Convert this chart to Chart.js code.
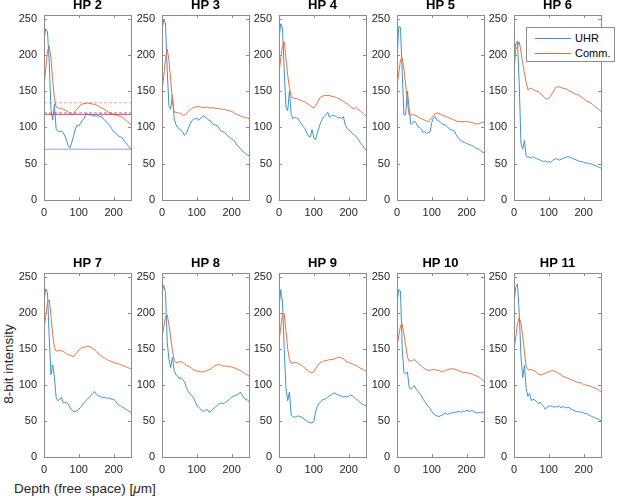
<!DOCTYPE html>
<html>
<head>
<meta charset="utf-8">
<script src="https://cdn.jsdelivr.net/npm/chart.js@4"></script>
<style>
  body { margin: 0; background: #fff; font-family: "Liberation Sans", Arial, sans-serif; }
  #wrap { position: relative; width: 617px; height: 496px; overflow: hidden; }
  #wrap canvas { position: absolute; }
  .lbl { position: absolute; font-size: 13.5px; color: #262626; white-space: nowrap; }
  #legend { position: absolute; left: 526px; top: 27px; width: 89px; height: 35px; background: #fff;
            border: 1px solid #8c8c8c; box-sizing: border-box; font-size: 11px; color: #000; }
  #legend .row { position: absolute; left: 0; height: 14px; line-height: 14px; }
  #legend .sw { position: absolute; left: 8px; top: 7px; width: 36px; height: 1px; }
  #legend .tx { position: absolute; left: 48px; top: 0; }
</style>
</head>
<body>
<div id="wrap">
  <div class="lbl" style="left:14px;top:481px">Depth (free space) [<i>μ</i>m]</div>
  <div class="lbl" style="left:8px;top:364px;transform:translate(-50%,-50%) rotate(-90deg)">8-bit intensity</div>
  <div id="legend">
    <div class="row" style="top:3px;width:100%"><span class="sw" style="background:#3d93d1"></span><span class="tx">UHR</span></div>
    <div class="row" style="top:18px;width:100%"><span class="sw" style="background:#e5713f"></span><span class="tx">Comm.</span></div>
  </div>
</div>
<script>
// depth axis, micrometres (free space)
const depth = [0,5,10,15,20,25,30,35,40,45,50,55,60,65,70,75,80,85,90,95,100,105,110,115,120,125,130,135,140,145,150,155,160,165,170,175,180,185,190,195,200,205,210,215,220,225,230,235,240,245,250];
const titles = ['HP 2','HP 3','HP 4','HP 5','HP 6','HP 7','HP 8','HP 9','HP 10','HP 11'];
const xTicks = [0, 100, 200];
const yTicks = [0, 50, 100, 150, 200, 250];
const xMax = 250, yMax = 255;

// UHR profiles
const uhr2  = [221,236,232,190,125,110,132,97,95,94,95,93,88,82,74,72,80,88,98,103,102,106,110,112,118,119,117,118,116,117,115,117,114,116,112,110,107,105,102,98,94,93,90,88,87,86,82,79,76,73,70];
const uhr3  = [235,248,244,178,130,125,145,112,104,100,98,96,93,89,92,98,104,109,111,112,113,110,112,115,116,114,112,110,109,105,104,103,102,98,95,94,93,90,88,86,84,83,80,76,74,71,68,66,64,62,61];
const uhr4  = [223,243,237,178,128,123,150,118,112,114,113,112,108,105,101,98,92,88,87,97,86,83,92,100,107,112,115,118,121,114,116,117,116,115,113,114,112,115,104,99,97,95,92,90,88,86,82,78,75,71,69];
const uhr5  = [193,239,238,175,117,118,150,125,104,106,109,106,101,100,98,93,94,92,93,94,107,113,115,110,109,107,105,104,103,101,98,97,96,95,90,86,84,81,80,79,78,77,76,75,74,72,71,70,68,66,65];
const uhr6  = [200,215,219,160,78,70,82,60,59,59,58,60,58,57,56,55,54,53,54,52,53,52,54,56,57,56,55,56,57,58,59,60,59,58,57,56,55,54,53,53,52,51,51,50,50,49,48,47,46,45,44];
const uhr7  = [216,233,228,165,114,128,110,82,78,80,83,75,76,75,73,68,65,63,63,64,66,69,72,75,78,80,83,85,88,91,87,85,84,83,82,83,81,82,81,80,80,78,74,72,71,69,68,66,65,63,62];
const uhr8  = [228,238,228,160,135,124,138,120,114,112,108,110,107,104,96,91,88,85,83,77,72,69,67,64,63,65,66,62,63,66,68,70,72,74,75,74,75,77,78,81,83,84,85,86,87,90,86,82,80,79,77];
const uhr9  = [205,232,215,150,95,78,90,58,56,55,56,57,56,55,54,51,50,48,48,47,50,62,70,74,77,79,80,81,83,85,86,88,89,87,86,85,84,83,84,83,84,86,85,83,81,79,77,75,73,72,71];
const uhr10 = [214,232,230,150,117,115,118,96,94,97,99,94,91,88,85,80,77,73,70,67,63,60,58,57,56,57,58,60,61,59,60,61,61,62,62,63,63,62,64,63,65,64,63,65,63,62,61,62,61,62,62];
const uhr11 = [214,235,240,200,140,110,127,95,84,88,78,80,79,77,74,76,73,70,66,69,70,71,70,69,70,69,71,68,70,69,68,69,68,66,65,64,63,63,62,62,61,60,60,58,57,56,55,54,53,52,50];

// commercial system profiles
const comm2  = [156,180,205,212,195,165,140,128,127,126,127,125,124,123,121,119,118,119,123,126,128,131,132,133,133,134,133,133,132,132,131,130,128,127,126,124,123,121,120,119,118,117,117,116,115,114,112,110,108,106,104];
const comm3  = [150,170,195,208,192,165,138,121,121,120,120,119,117,117,119,122,124,126,127,128,129,129,128,128,127,128,128,127,127,127,127,126,126,126,125,125,125,124,123,123,122,121,119,118,117,116,115,114,114,113,112];
const comm4  = [175,195,213,218,195,172,155,143,141,140,140,139,138,137,136,135,133,132,130,128,127,130,134,139,142,143,144,144,144,144,143,143,142,141,140,139,137,136,134,133,131,129,127,126,128,126,124,122,120,118,116];
const comm5  = [157,175,193,196,180,158,135,117,117,118,117,116,115,113,112,111,110,109,108,110,113,116,119,120,119,118,117,116,115,114,113,112,111,110,109,108,108,108,108,108,108,108,107,107,106,105,105,105,106,107,107];
const comm6  = [177,207,212,218,205,188,175,162,152,154,154,152,151,150,149,147,145,142,140,139,140,143,147,151,155,156,156,155,154,154,153,152,150,149,148,146,145,145,143,141,140,138,136,135,134,132,130,128,126,124,122];
const comm7  = [177,195,214,218,195,170,152,147,147,148,147,146,145,143,142,141,140,139,142,145,148,150,152,152,153,153,153,152,150,149,146,144,142,140,138,137,135,134,133,132,131,130,130,129,128,127,126,125,124,123,122];
const comm8  = [165,180,195,197,183,165,148,134,131,131,132,132,131,129,127,126,125,123,121,120,119,119,118,118,118,119,120,121,122,124,126,127,128,128,127,126,126,126,125,125,125,124,123,122,121,120,118,117,115,114,112];
const comm9  = [160,180,198,199,175,150,135,130,130,131,131,130,128,127,125,123,121,119,117,117,118,122,126,129,131,132,133,134,134,135,135,135,136,137,138,138,137,136,134,132,131,130,129,128,127,126,124,123,122,120,119];
const comm10 = [153,168,182,184,170,155,138,133,133,134,135,133,130,128,126,124,122,121,120,120,121,121,121,120,120,119,118,119,120,121,122,122,122,122,121,120,119,118,117,117,117,116,116,115,114,113,112,111,109,107,105];
const comm11 = [150,165,185,193,185,168,145,125,121,121,121,120,119,117,115,114,114,115,116,117,118,119,120,119,118,117,115,114,112,111,110,109,108,107,106,105,104,103,103,102,100,100,99,99,98,97,96,95,94,92,91];

// HP 2 reference levels
const hp2Levels = [134, 118, 120, 70];

const uhrAll  = [uhr2, uhr3, uhr4, uhr5, uhr6, uhr7, uhr8, uhr9, uhr10, uhr11];
const commAll = [comm2, comm3, comm4, comm5, comm6, comm7, comm8, comm9, comm10, comm11];

const BLUE = '#3d93d1', ORANGE = '#e5713f', AXIS = '#8c8c8c', TXT = '#262626';
const FONT = '"Liberation Sans", Arial, sans-serif';
const colLeft = [44, 161.5, 279, 396.5, 514];
const rowTop = [15, 273], rowH = [185, 184];
const plotW = 87, padL = 34, padR = 8, padT = 19, padB = 22;

// box with inward ticks, MATLAB style
const boxPlugin = {
  id: 'box',
  afterDraw(chart) {
    const { ctx, chartArea: a, scales } = chart;
    ctx.save();
    ctx.strokeStyle = AXIS; ctx.lineWidth = 1;
    ctx.strokeRect(Math.round(a.left) + 0.5, Math.round(a.top) + 0.5, Math.round(a.right - a.left), Math.round(a.bottom - a.top));
    ctx.beginPath();
    scales.x.ticks.forEach(t => {
      const p = Math.round(scales.x.getPixelForValue(t.value)) + 0.5;
      ctx.moveTo(p, a.bottom); ctx.lineTo(p, a.bottom - 3);
      ctx.moveTo(p, a.top); ctx.lineTo(p, a.top + 3);
    });
    scales.y.ticks.forEach(t => {
      const p = Math.round(scales.y.getPixelForValue(t.value)) + 0.5;
      ctx.moveTo(a.left, p); ctx.lineTo(a.left + 3, p);
      ctx.moveTo(a.right, p); ctx.lineTo(a.right - 3, p);
    });
    ctx.stroke();
    ctx.restore();
  }
};

const wrap = document.getElementById('wrap');
const legendEl = document.getElementById('legend');

titles.forEach((title, i) => {
  const r = Math.floor(i / 5), c = i % 5;
  const cv = document.createElement('canvas');
  const w = plotW + padL + padR, h = rowH[r] + padT + padB;
  cv.width = w; cv.height = h;
  cv.style.left = (colLeft[c] - padL) + 'px';
  cv.style.top = (rowTop[r] - padT) + 'px';
  cv.style.width = w + 'px'; cv.style.height = h + 'px';
  wrap.insertBefore(cv, legendEl);

  const pts = arr => depth.map((d, k) => ({ x: d, y: arr[k] }));
  const datasets = [
    { label: 'UHR', data: pts(uhrAll[i]), borderColor: BLUE, borderWidth: 1, order: 2 },
    { label: 'Comm.', data: pts(commAll[i]), borderColor: ORANGE, borderWidth: 1, order: 1 }
  ];
  if (i === 0) {
    const lvl = (v, color, dash) => ({ data: [{ x: 0, y: v }, { x: xMax, y: v }], borderColor: color, borderWidth: 1, borderDash: dash, order: 0 });
    datasets.push(lvl(hp2Levels[0], 'rgba(255,90,90,0.6)', [3, 2]));
    datasets.push(lvl(hp2Levels[1], 'rgba(255,40,40,0.85)', []));
    datasets.push(lvl(hp2Levels[2], 'rgba(60,60,255,0.7)', [3, 2]));
    datasets.push(lvl(hp2Levels[3], 'rgba(110,110,255,0.7)', []));
  }

  new Chart(cv, {
    type: 'line',
    data: { datasets },
    plugins: [boxPlugin],
    options: {
      responsive: false, animation: false, devicePixelRatio: 1,
      layout: { padding: { left: 0, right: padR, top: 0, bottom: 0 } },
      elements: { point: { radius: 0 }, line: { tension: 0 } },
      plugins: {
        legend: { display: false },
        tooltip: { enabled: false },
        title: { display: true, text: title, color: '#000', fullSize: false,
                 font: { family: FONT, size: 13, weight: 'bold' },
                 padding: { top: 1.4, bottom: 2 } }
      },
      scales: {
        x: {
          type: 'linear', min: 0, max: xMax,
          afterBuildTicks: s => { s.ticks = xTicks.map(v => ({ value: v })); },
          afterFit: s => { s.height = padB; },
          grid: { display: false, drawTicks: false }, border: { display: false },
          ticks: { color: TXT, padding: 6, maxRotation: 0, font: { family: FONT, size: 11 } }
        },
        y: {
          min: 0, max: yMax,
          afterBuildTicks: s => { s.ticks = yTicks.map(v => ({ value: v })); },
          afterFit: s => { s.width = padL; },
          grid: { display: false, drawTicks: false }, border: { display: false },
          ticks: { color: TXT, padding: 7, font: { family: FONT, size: 11 } }
        }
      }
    }
  });
});
</script>
</body>
</html>
